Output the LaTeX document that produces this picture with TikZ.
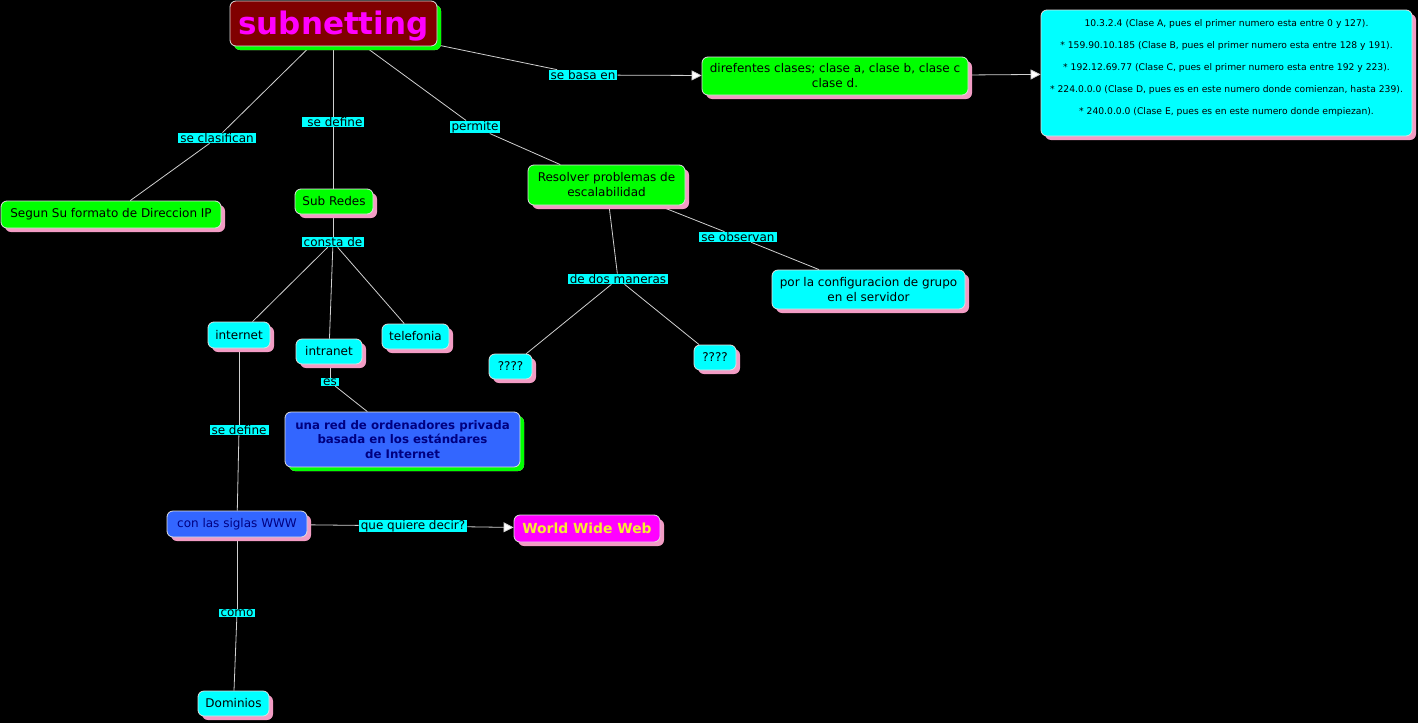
\documentclass[tikz,border=0pt]{standalone}
\usepackage{fontspec}
\setmainfont{DejaVu Sans}
\usetikzlibrary{shadows,arrows.meta,backgrounds}
\definecolor{cgreen}{HTML}{00FF00}
\definecolor{ccyan}{HTML}{00FFFF}
\definecolor{cblue}{HTML}{3366FF}
\definecolor{cmag}{HTML}{FF00FF}
\definecolor{cdred}{HTML}{800000}
\definecolor{cpink}{HTML}{F29CC4}
\definecolor{cnavy}{HTML}{000080}
\definecolor{cyel}{HTML}{F8EC30}
\definecolor{cline}{HTML}{D0D0D0}
\definecolor{cborder}{HTML}{E0E0E0}
\tikzset{
  box/.style={draw=cborder, line width=0.8pt, rounded corners=6pt, align=center,
    inner sep=1pt, font=\fontsize{12}{15}\selectfont,
    general shadow={shadow xshift=4pt, shadow yshift=-4pt, fill=cpink}},
  gshadow/.style={general shadow={shadow xshift=4pt, shadow yshift=-4pt, fill=cgreen}},
  gbox/.style={box, fill=cgreen},
  cbox/.style={box, fill=ccyan},
  lbl/.style={fill=ccyan, inner xsep=2pt, inner ysep=0.5pt, font=\fontsize{12}{13}\selectfont},
  conn/.style={draw=cline, line width=0.8pt},
  arr/.style={conn, -{Triangle[length=10pt, width=10pt, fill=white]}},
}
\begin{document}
\begin{tikzpicture}[x=1pt, y=-1pt]
\useasboundingbox (0,0) rectangle (1418,723);

% concept nodes
\node[box, fill=cdred, gshadow, minimum width=207pt, minimum height=45pt,
  text=cmag, font=\fontsize{31}{34}\selectfont\bfseries,
  text height=24pt, text depth=3pt] (sub) at (333.5,23.5) {subnetting};
\node[gbox, minimum width=266pt, minimum height=38pt] (dif) at (835,76)
  {direfentes clases; clase a, clase b, clase c\\clase d.};
\node[cbox, minimum width=371pt, minimum height=126pt] (big) at (1226.5,73) {};
\node[align=center, font=\fontsize{9.2}{22}\selectfont, inner sep=0pt] (bigtxt) at (1226.5,68)
  {10.3.2.4 (Clase A, pues el primer numero esta entre 0 y 127).\\
   * 159.90.10.185 (Clase B, pues el primer numero esta entre 128 y 191).\\
   * 192.12.69.77 (Clase C, pues el primer numero esta entre 192 y 223).\\
   * 224.0.0.0 (Clase D, pues es en este numero donde comienzan, hasta 239).\\
   * 240.0.0.0 (Clase E, pues es en este numero donde empiezan).};
\node[gbox, minimum width=220pt, minimum height=27pt] (seg) at (111,214.5) {Segun Su formato de Direccion IP};
\node[gbox, minimum width=78pt, minimum height=25pt] (subr) at (334,201.5) {Sub Redes};
\node[gbox, minimum width=157pt, minimum height=40pt] (res) at (606.5,185) {Resolver problemas de\\escalabilidad};
\node[cbox, minimum width=193pt, minimum height=39pt] (por) at (868.5,289.5) {por la configuracion de grupo\\en el servidor};
\node[cbox, minimum width=43pt, minimum height=25pt] (ql) at (510.5,366.5) {????};
\node[cbox, minimum width=42pt, minimum height=25pt] (qr) at (715,357.5) {????};
\node[cbox, minimum width=62pt, minimum height=26pt] (inet) at (239,335) {internet};
\node[cbox, minimum width=66pt, minimum height=25pt] (intra) at (329,351.5) {intranet};
\node[cbox, minimum width=67pt, minimum height=25pt] (tel) at (415.5,336.5) {telefonia};
\node[box, fill=cblue, gshadow, minimum width=235pt, minimum height=55pt, text=cnavy,
  font=\fontsize{11.8}{14.5}\selectfont\bfseries] (red) at (402.5,439.5)
  {una red de ordenadores privada\\basada en los estándares\\de Internet};
\node[box, fill=cblue, text=cnavy, minimum width=140pt, minimum height=26pt] (siglas) at (237,524) {con las siglas WWW};
\node[box, fill=cmag, text=cyel, minimum width=146pt, minimum height=27pt,
  font=\fontsize{13.9}{15}\selectfont\bfseries] (www) at (587,528.5) {World Wide Web};
\node[cbox, minimum width=71pt, minimum height=25pt] (dom) at (233.5,703.5) {Dominios};

% linking phrases
\node[lbl] (lclas) at (217,138) {se clasifican};
\node[lbl] (ldef) at (333,122) {\ se define};
\node[lbl] (lperm) at (475,127) {permite};
\node[lbl] (lbasa) at (583,75) {se basa en\ };
\node[lbl] (lobs) at (738,237) {se observan};
\node[lbl] (ldos) at (618,279) {de dos maneras};
\node[lbl] (lcons) at (333,242) {consta de};
\node[lbl] (les) at (330,382) {es};
\node[lbl] (ldef2) at (239,430) {se define};
\node[lbl] (lque) at (413,526) {que quiere decir?};
\node[lbl] (lcomo) at (237,613) {como};

% connectors (behind the nodes)
\begin{pgfonlayer}{background}
\fill[black] (0,0) rectangle (1418,723);
\draw[conn] (sub) -- (lclas);
\draw[conn] (lclas) -- (seg);
\draw[conn] (sub.south -| ldef) -- (ldef);
\draw[conn] (ldef) -- (subr.north -| ldef);
\draw[conn] (sub) -- (lperm);
\draw[conn] (lperm) -- (res);
\draw[conn] (sub) -- (lbasa);
\draw[arr] (lbasa) -- (dif);
\draw[arr] (dif) -- (big);
\draw[conn] (subr.south -| lcons) -- (lcons);
\draw[conn] (lcons) -- (inet);
\draw[conn] (lcons) -- (intra);
\draw[conn] (lcons) -- (tel);
\draw[conn] (intra.south -| les) -- (les);
\draw[conn] (les) -- (red);
\draw[conn] (res) -- (ldos);
\draw[conn] (ldos) -- (ql);
\draw[conn] (ldos) -- (qr);
\draw[conn] (res) -- (lobs);
\draw[conn] (lobs) -- (por);
\draw[conn] (inet) -- (ldef2);
\draw[conn] (ldef2) -- (siglas);
\draw[conn] (siglas) -- (lque);
\draw[arr] (lque) -- (www);
\draw[conn] (siglas) -- (lcomo);
\draw[conn] (lcomo) -- (dom);
\end{pgfonlayer}
\end{tikzpicture}
\end{document}
